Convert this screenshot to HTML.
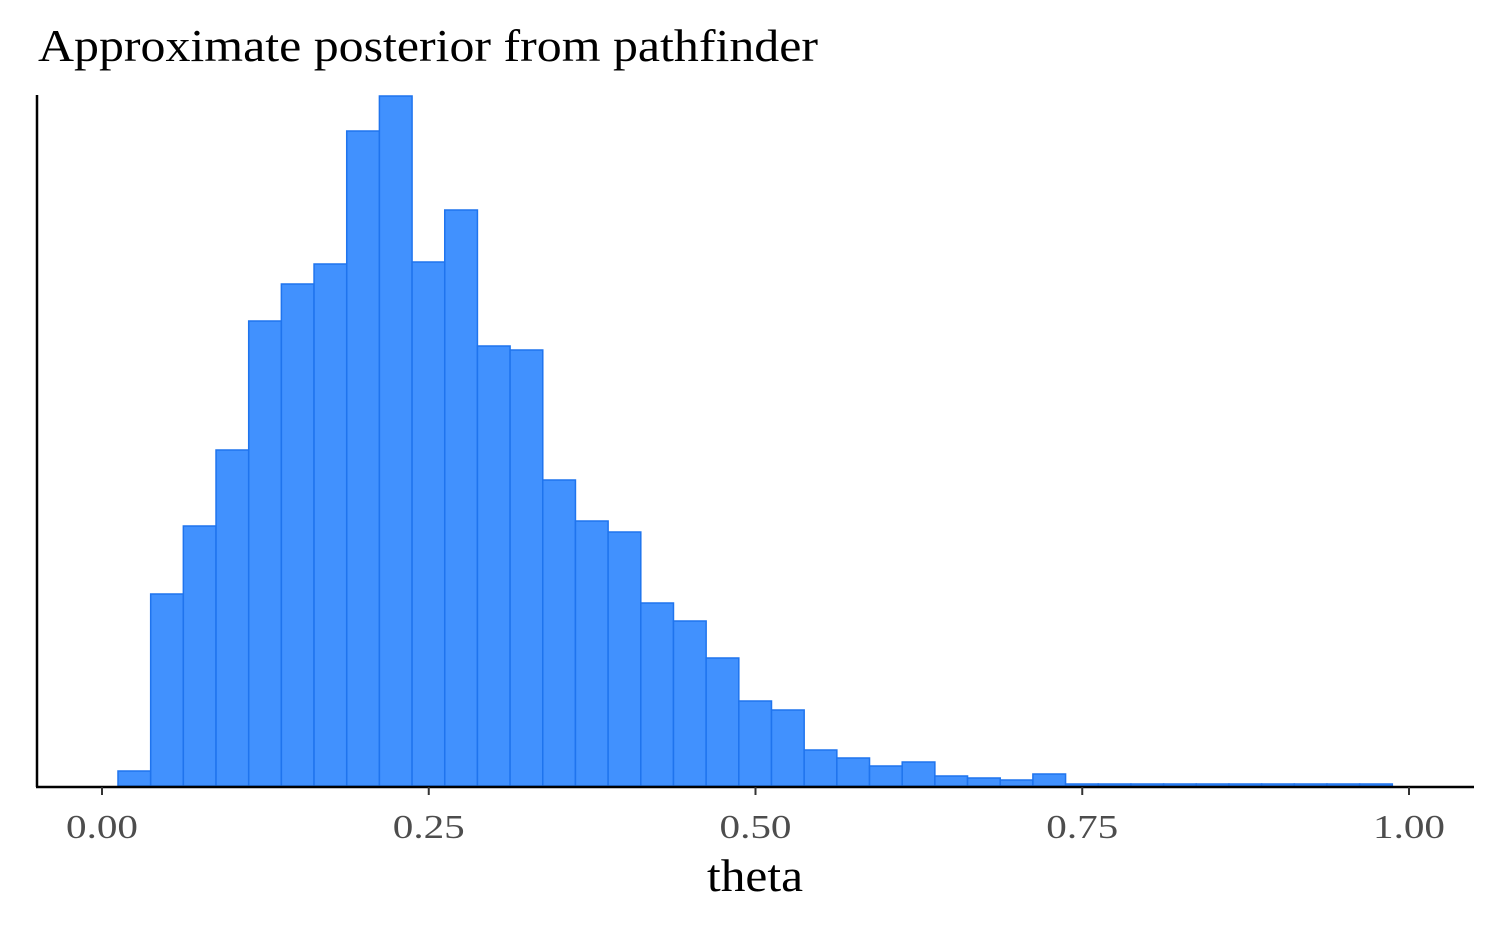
<!DOCTYPE html>
<html><head><meta charset="utf-8"><style>
body{margin:0;background:#fff}
svg{display:block;font-family:"Liberation Serif",serif}
</style></head><body>
<svg id="chart" width="1500" height="927" viewBox="0 0 1500 927">
<text x="38" y="61" font-size="46" textLength="780" lengthAdjust="spacingAndGlyphs" fill="#000">Approximate posterior from pathfinder</text>
<g id="bars"></g>
<line x1="37" y1="95" x2="37" y2="787" stroke="#000" stroke-width="2.5"/>
<line x1="36" y1="787" x2="1474" y2="787" stroke="#000" stroke-width="2.5"/>
<g id="ticks"></g>
<text x="755" y="891" font-size="46" textLength="96" lengthAdjust="spacingAndGlyphs" text-anchor="middle" fill="#000">theta</text>
</svg>
<script>
const binStart = 0.01224;
const binWidth = 0.025;
const counts = [15,192,260,336,465,502,522,655,690,524,576,440,436,306,265,254,183,165,128,85,76,36,28,20,24,10,8,6,12,2,2,2,2,2,2,2,2,2,2];
const tickValues = [0,0.25,0.5,0.75,1];
const tickLabels = ["0.00","0.25","0.50","0.75","1.00"];
const yMax = 690;
const NS="http://www.w3.org/2000/svg";
function xs(v){return 102+v*1307;}
function ys(v){return 786-v*(690/yMax);}
const bars=document.getElementById('bars');
counts.forEach((c,i)=>{
  const x0=xs(binStart+i*binWidth), x1=xs(binStart+(i+1)*binWidth);
  const r=document.createElementNS(NS,'rect');
  r.setAttribute('x',x0);r.setAttribute('width',x1-x0);
  r.setAttribute('y',ys(c));r.setAttribute('height',ys(0)-ys(c));
  r.setAttribute('fill','#4191fe');r.setAttribute('stroke','#1f74ee');r.setAttribute('stroke-width','1.5');
  
  
  bars.appendChild(r);
});
const ticks=document.getElementById('ticks');
tickValues.forEach((v,i)=>{
  const l=document.createElementNS(NS,'line');
  l.setAttribute('x1',xs(v));l.setAttribute('x2',xs(v));l.setAttribute('y1',787);l.setAttribute('y2',795);
  l.setAttribute('stroke','#333');l.setAttribute('stroke-width','2');
  
  
  ticks.appendChild(l);
  const t=document.createElementNS(NS,'text');
  t.setAttribute('x',xs(v));t.setAttribute('y',838);t.setAttribute('text-anchor','middle');
  t.setAttribute('font-size','34');t.setAttribute('fill','#4d4d4d');
  t.setAttribute('textLength','72');t.setAttribute('lengthAdjust','spacingAndGlyphs');
  t.textContent=tickLabels[i];
  
  
  ticks.appendChild(t);
});
</script>
</body></html>
